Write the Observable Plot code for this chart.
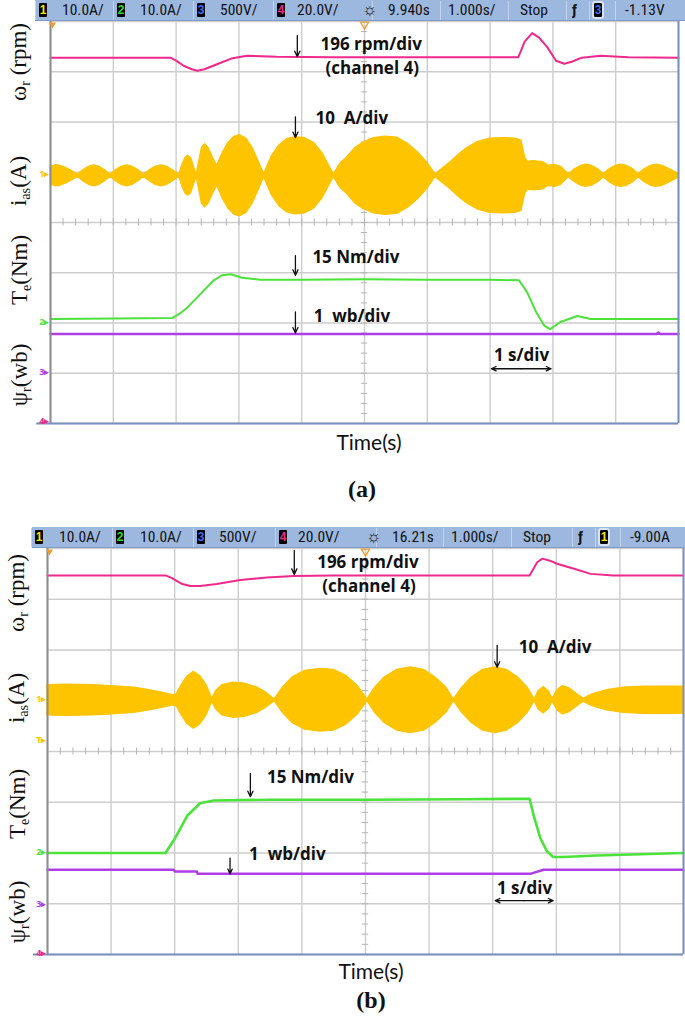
<!DOCTYPE html>
<html><head><meta charset="utf-8">
<script src="https://cdn.jsdelivr.net/npm/d3@7"></script>
<script src="https://cdn.jsdelivr.net/npm/@observablehq/plot@0.6"></script>
<style>
body{margin:0;background:#fff;}
#root{position:relative;width:685px;height:1021px;overflow:hidden;background:#fff;}
.hdr{position:absolute;height:21px;background:#9db8df;border-bottom:1px solid #7f9cc6;box-sizing:border-box;}
.hi{position:absolute;top:2px;font-family:"Liberation Sans Narrow","Arial Narrow","Roboto Condensed","Liberation Sans",sans-serif;font-size:15.5px;line-height:17px;color:#111;white-space:nowrap;}
.badge{position:absolute;top:3px;width:8px;height:14px;background:#000;border-radius:1px;font-family:"Liberation Sans Narrow","Liberation Sans",sans-serif;font-weight:bold;font-size:12px;line-height:14px;text-align:center;}
.badge.framed{outline:2px solid #d8e2f0;}
.div{position:absolute;top:1px;width:1px;height:19px;background:#c3d3ea;}
.ylab{position:absolute;transform:translate(-50%,-50%) rotate(-90deg);font-family:"Liberation Serif","DejaVu Serif",serif;font-size:23px;white-space:nowrap;line-height:1;color:#111;}
.ylab sub{font-size:0.62em;vertical-align:-0.3em;line-height:0;}
.cap{position:absolute;transform:translate(-50%,-50%);white-space:nowrap;color:#111;}
.time{font-family:Lato,"Open Sans",sans-serif;font-size:21px;}
.panel{font-family:"Liberation Serif",serif;font-weight:bold;font-size:24px;}
svg{overflow:visible;}
</style></head>
<body><div id="root"></div>
<script>
// ---------- grid ----------
const xTicks = [0,1,2,3,4,5,6,7,8,9,10];
const yTicks = [-4,-3,-2,-1,0,1,2,3,4];
const minorT = d3.range(0.2, 10, 0.2);
const minorV = d3.range(-3.8, 4.0, 0.2);

// ---------- colours ----------
const cSpeed = "#f0288c", cCurr = "#ffc400", cTorque = "#4be23a", cFlux = "#b03ee6";

// ---------- header texts ----------
const hdrA = ["1","10.0A/","2","10.0A/","3","500V/","4","20.0V/","9.940s","1.000s/","Stop","3","-1.13V"];
const hdrB = ["1","10.0A/","2","10.0A/","3","500V/","4","20.0V/","16.21s","1.000s/","Stop","1","-9.00A"];

// ---------- panel (a) data (time in s, value in div) ----------
const speedA = [[0,3.28],[1.91,3.28],[2.0,3.22],[2.12,3.12],[2.25,3.05],[2.34,3.02],[2.45,3.05],[2.65,3.15],[2.9,3.27],[3.13,3.32],[3.6,3.3],[4.5,3.29],[5.5,3.29],[6.5,3.29],[7.45,3.29],[7.55,3.6],[7.67,3.77],[7.78,3.68],[7.91,3.49],[8.05,3.22],[8.18,3.16],[8.3,3.2],[8.46,3.28],[8.76,3.32],[9.2,3.29],[10,3.28]];
const currCenterA = 0.93;
const currA = [[0,0.17],[0.08,0.21],[0.16,0.2],[0.26,0.15],[0.35,0.09],[0.435,0.02],
 [0.52,0.11],[0.61,0.18],[0.695,0.21],[0.78,0.18],[0.87,0.11],[0.955,0.02],
 [1.04,0.11],[1.13,0.18],[1.22,0.21],[1.31,0.18],[1.4,0.11],[1.486,0.02],
 [1.58,0.11],[1.67,0.18],[1.77,0.21],[1.86,0.18],[1.95,0.11],[2.05,0.02],
 [2.1,0.22],[2.15,0.36],[2.19,0.4],[2.24,0.35],[2.28,0.2],[2.325,0.02],
 [2.37,0.3],[2.41,0.55],[2.46,0.63],[2.52,0.55],[2.59,0.35],[2.654,0.2],
 [2.74,0.45],[2.83,0.65],[2.92,0.77],[3.01,0.81],[3.12,0.74],[3.22,0.55],[3.31,0.3],[3.4,0.03],
 [3.52,0.38],[3.64,0.6],[3.77,0.73],[3.9,0.77],[4.05,0.75],[4.2,0.65],[4.33,0.45],[4.43,0.22],[4.51,0.03],
 [4.62,0.25],[4.72,0.36],[4.85,0.55],[4.98,0.66],[5.15,0.75],[5.33,0.78],[5.52,0.76],[5.7,0.63],[5.85,0.47],[6.0,0.26],[6.13,0.03],
 [6.25,0.15],[6.37,0.27],[6.5,0.42],[6.6,0.52],[6.8,0.67],[7.0,0.74],[7.2,0.75],[7.4,0.74],[7.5,0.7],[7.56,0.35],[7.6,0.28],
 [7.7,0.29],[7.85,0.27],[7.93,0.2],[8.03,0.22],[8.13,0.18],[8.25,0.03],
 [8.35,0.13],[8.45,0.2],[8.53,0.22],[8.62,0.2],[8.72,0.13],[8.81,0.03],
 [8.9,0.13],[9.0,0.2],[9.09,0.22],[9.18,0.2],[9.28,0.13],[9.36,0.03],
 [9.46,0.13],[9.56,0.2],[9.65,0.22],[9.75,0.2],[9.88,0.12],[10,0.04]];
const torqueA = [[0,-1.92],[1.0,-1.91],[1.94,-1.9],[2.05,-1.82],[2.18,-1.69],[2.39,-1.42],[2.6,-1.15],[2.73,-1.05],[2.87,-1.03],[3.05,-1.1],[3.34,-1.14],[4,-1.14],[5,-1.13],[6,-1.14],[7,-1.14],[7.46,-1.15],[7.59,-1.39],[7.72,-1.75],[7.86,-2.05],[7.96,-2.12],[8.12,-1.98],[8.39,-1.86],[8.6,-1.92],[10,-1.92]];
const fluxA = [[0,-2.22],[5,-2.22],[9.65,-2.22],[9.68,-2.19],[9.71,-2.22],[10,-2.22]];

// ---------- panel (b) data ----------
const speedB = [[0,3.47],[1.855,3.47],[1.95,3.42],[2.12,3.3],[2.25,3.26],[2.4,3.26],[2.66,3.3],[3.03,3.38],[3.45,3.43],[3.87,3.46],[4.5,3.47],[5.5,3.47],[6.5,3.47],[7.58,3.47],[7.7,3.73],[7.78,3.8],[7.9,3.76],[8.01,3.7],[8.28,3.6],[8.54,3.5],[8.9,3.47],[10,3.47]];
const currCenterB = 1.01;
const currB = [[0,0.3],[0.3,0.31],[0.7,0.3],[1.0,0.28],[1.36,0.25],[1.6,0.2],[1.8,0.15],[1.98,0.1],
 [2.03,0.12],[2.1,0.28],[2.2,0.47],[2.3,0.56],[2.4,0.48],[2.5,0.3],[2.59,0.03],
 [2.65,0.18],[2.75,0.3],[2.93,0.35],[3.1,0.33],[3.3,0.25],[3.45,0.14],[3.57,0.02],
 [3.7,0.25],[3.85,0.45],[4.05,0.58],[4.29,0.62],[4.5,0.6],[4.7,0.48],[4.88,0.28],[5.03,0.02],
 [5.15,0.25],[5.3,0.45],[5.5,0.6],[5.71,0.65],[5.92,0.6],[6.1,0.45],[6.27,0.25],[6.39,0.02],
 [6.52,0.25],[6.67,0.45],[6.85,0.6],[7.04,0.65],[7.22,0.6],[7.4,0.45],[7.55,0.25],[7.66,0.02],
 [7.72,0.18],[7.8,0.26],[7.88,0.18],[7.94,0.03],
 [8.02,0.2],[8.1,0.28],[8.2,0.24],[8.32,0.13],[8.43,0.03],
 [8.5,0.08],[8.6,0.13],[8.8,0.2],[9.06,0.25],[9.4,0.27],[9.7,0.27],[10,0.27]];
const torqueB = [[0,-2.0],[1.0,-2.0],[1.855,-2.0],[2.0,-1.72],[2.2,-1.26],[2.4,-1.02],[2.615,-0.965],[3.5,-0.95],[5,-0.95],[6.5,-0.94],[7.58,-0.93],[7.65,-1.29],[7.75,-1.71],[7.85,-1.96],[7.95,-2.08],[8.1,-2.08],[8.64,-2.05],[10,-2.0]];
const fluxB = [[0,-2.33],[1.986,-2.33],[2.0,-2.365],[2.35,-2.365],[2.36,-2.41],[7.59,-2.41],[7.8,-2.33],[10,-2.33]];

// ---------- annotations ----------
const labelsA = [[4.3,3.54,"196 rpm/div"],[4.38,3.06,"(channel 4)"],[4.22,2.06,"10\u00a0 A/div"],[4.17,-0.69,"15 Nm/div"],[4.19,-1.87,"1\u00a0 wb/div"]];
const arrowsA = [[3.93,3.72,3.30],[3.9,2.10,1.69],[3.9,-0.66,-1.05],[3.9,-1.78,-2.2]];
const sdivA = [[7.5,-2.65,"1 s/div",7.02,7.97,-2.91]];
const labelsB = [[4.24,3.73,"196 rpm/div"],[4.32,3.26,"(channel 4)"],[7.41,2.04,"10\u00a0 A/div"],[3.45,-0.51,"15 Nm/div"],[3.17,-2.03,"1\u00a0 wb/div"]];
const arrowsB = [[3.88,3.96,3.49],[7.07,2.09,1.66],[3.19,-0.43,-0.89],[2.87,-2.1,-2.41]];
const sdivB = [[7.5,-2.70,"1 s/div",7.04,7.95,-2.94]];
const markersA = [[0.97,"1\u25B8",cCurr],[-1.99,"2\u25B8",cTorque],[-2.985,"3\u25B8",cFlux],[-3.96,"4\u25B8",cSpeed]];
const markersB = [[1.04,"1\u25B8",cCurr],[0.22,"T\u25B8",cCurr],[-1.99,"2\u25B8",cTorque],[-3.0,"3\u25B8",cFlux],[-3.98,"4\u25B8",cSpeed]];

const root = document.getElementById("root");

function panel(o){
  const cc = o.center;
  const p = Plot.plot({
    width: 685, height: o.height,
    marginTop: 21, marginBottom: 2, marginLeft: o.ml, marginRight: o.mr,
    x: {domain:[0,10], axis:null},
    y: {domain:[-4,4], axis:null},
    style: {background:"transparent", overflow:"visible"},
    marks: [
      Plot.ruleX(xTicks, {stroke:"#cdcdcd", strokeWidth:1.4}),
      Plot.ruleY(yTicks, {stroke:"#cdcdcd", strokeWidth:1.4}),
      Plot.ruleX(minorT, {x:d=>d, y1:-0.07, y2:0.07, stroke:"#b5b5b5", strokeWidth:1}),
      Plot.ruleY(minorV, {y:d=>d, x1:4.95, x2:5.05, stroke:"#b5b5b5", strokeWidth:1}),
      Plot.areaY(o.curr, {x:d=>d[0], y1:d=>cc-d[1], y2:d=>cc+d[1], fill:cCurr, stroke:cCurr, strokeWidth:1.2}),
      Plot.line(o.flux, {x:d=>d[0], y:d=>d[1], stroke:cFlux, strokeWidth:2.4}),
      Plot.line(o.torque, {x:d=>d[0], y:d=>d[1], stroke:cTorque, strokeWidth:o.tw}),
      Plot.line(o.speed, {x:d=>d[0], y:d=>d[1], stroke:cSpeed, strokeWidth:2}),
      Plot.ruleX([0], {stroke:"#8c8c8c", strokeWidth:2}),
      Plot.ruleX([10], {stroke:"#7790bd", strokeWidth:2}),
      Plot.ruleY([-4], {x1:-0.22, x2:10, stroke:"#7790bd", strokeWidth:2.2}),
      Plot.text(o.markers, {x:0, y:d=>d[0], text:d=>d[1], fill:d=>d[2], fontSize:9, fontWeight:"bold", textAnchor:"end", dx:-1}),
      Plot.dot([5], {x:d=>d, y:4, symbol:"triangle", rotate:180, r:3, stroke:"#f29a2e", strokeWidth:1.3, fill:"none", dy:3}),
      Plot.dot([0], {x:d=>d, y:4, symbol:"triangle", rotate:180, r:2.5, fill:"#f29a2e", stroke:"none", dy:3, dx:2}),
      Plot.text(o.labels, {x:d=>d[0], y:d=>d[1], text:d=>d[2], textAnchor:"start", fontFamily:"'Open Sans',Lato,sans-serif", fontWeight:"bold", fontSize:17, fill:"#111"}),
      Plot.arrow(o.arrows, {x1:d=>d[0], x2:d=>d[0], y1:d=>d[1], y2:d=>d[2], stroke:"#111", strokeWidth:1.3, headLength:7, headAngle:50}),
      Plot.text(o.sdiv, {x:d=>d[0], y:d=>d[1], text:d=>d[2], textAnchor:"middle", fontFamily:"'Open Sans',Lato,sans-serif", fontWeight:"bold", fontSize:17, fill:"#111"}),
      Plot.arrow(o.sdiv, {x1:d=>(d[3]+d[4])/2, x2:d=>d[3], y1:d=>d[5], y2:d=>d[5], stroke:"#111", strokeWidth:1.3, headLength:6, headAngle:50}),
      Plot.arrow(o.sdiv, {x1:d=>(d[3]+d[4])/2, x2:d=>d[4], y1:d=>d[5], y2:d=>d[5], stroke:"#111", strokeWidth:1.3, headLength:6, headAngle:50})
    ]
  });
  p.style.position = "absolute";
  p.style.left = "0px";
  p.style.top = o.top + "px";
  root.append(p);
}

function header(top, left, texts, xs, badgeColors){
  const h = document.createElement("div");
  h.className = "hdr";
  h.style.top = top + "px"; h.style.left = left + "px"; h.style.width = (685-left) + "px";
  root.append(h);
  const dividers = [xs[0]-4, xs[2]-4, xs[4]-4, xs[6]-4, xs[8]-16, xs[9]-8, xs[10]-12, xs[11]-28, xs[11]-5, xs[12]-10];
  for (const d of dividers){ const e=document.createElement("div"); e.className="div"; e.style.left=d+"px"; e.style.top=(top+1)+"px"; root.append(e); }
  const badgeIdx = [0,2,4,6,11];
  texts.forEach((t,i)=>{
    const e = document.createElement("div");
    if (badgeIdx.includes(i)){
      e.className = "badge" + (i===11 ? " framed":"");
      e.style.color = badgeColors[badgeIdx.indexOf(i)];
      e.style.top = (top+3)+"px";
    } else {
      e.className = "hi";
      e.style.top = (top+2)+"px";
    }
    e.style.left = xs[i] + "px";
    e.textContent = t;
    root.append(e);
  });
  const sun = document.createElement("div"); sun.className="hi"; sun.textContent="\u263C";
  sun.style.left=(xs[8]-26)+"px"; sun.style.top=(top+1)+"px"; sun.style.fontSize="17px"; root.append(sun);
  const tr = document.createElement("div"); tr.className="hi"; tr.textContent="\u0192";
  tr.style.left=(xs[11]-22)+"px"; tr.style.top=(top+2)+"px"; tr.style.fontWeight="bold"; root.append(tr);
}

function ylab(html, cx, cy){
  const d = document.createElement("div"); d.className="ylab"; d.innerHTML=html;
  d.style.left=cx+"px"; d.style.top=cy+"px"; root.append(d);
}
function cap(text, cls, cx, cy){
  const d = document.createElement("div"); d.className="cap "+cls; d.textContent=text;
  d.style.left=cx+"px"; d.style.top=cy+"px"; root.append(d);
}

panel({top:0, height:425, ml:50, mr:7, tw:2, center:currCenterA, curr:currA, speed:speedA, torque:torqueA, flux:fluxA, labels:labelsA, arrows:arrowsA, sdiv:sdivA, markers:markersA});
panel({top:527, height:429, ml:47, mr:2, tw:2.6, center:currCenterB, curr:currB, speed:speedB, torque:torqueB, flux:fluxB, labels:labelsB, arrows:arrowsB, sdiv:sdivB, markers:markersB});

header(0, 35, hdrA, [39,62,117,140,197,220,277,297,388,448,520,594,625], ["#f5e400","#2cd92c","#3b6cf5","#f0288c","#3b6cf5"]);
header(527, 32, hdrB, [35,59,116,140,197,219,279,298,392,451,523,600,630], ["#f5e400","#2cd92c","#3b6cf5","#f0288c","#f5e400"]);

ylab("\u03C9<sub>r</sub> (rpm)", 18, 62);
ylab("i<sub>as</sub>(A)", 18, 181);
ylab("T<sub>e</sub>(Nm)", 19, 270);
ylab("\u03C8<sub>r</sub>(wb)", 19, 375);
ylab("\u03C9<sub>r</sub> (rpm)", 16, 593);
ylab("i<sub>as</sub>(A)", 16, 698);
ylab("T<sub>e</sub>(Nm)", 17, 804);
ylab("\u03C8<sub>r</sub>(wb)", 17, 912);

cap("Time(s)", "time", 369, 441);
cap("(a)", "panel", 362, 489);
cap("Time(s)", "time", 371, 970);
cap("(b)", "panel", 371, 1000);
</script></body></html>
